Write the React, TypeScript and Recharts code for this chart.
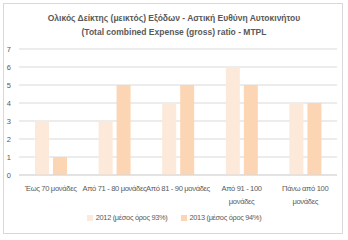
import { Bar, BarChart, CartesianGrid, XAxis, YAxis } from "recharts";

const categories = [
  "Έως 70 μονάδες",
  "Από 71 - 80 μονάδες",
  "Από 81 - 90 μονάδες",
  "Από 91 - 100\nμονάδες",
  "Πάνω από 100\nμονάδες",
];
const values2012 = [3, 3, 4, 6, 4];
const values2013 = [1, 5, 5, 5, 4];
const yTicks = [0, 1, 2, 3, 4, 5, 6, 7];
const series = [
  { key: "y2012", name: "2012 (μέσος όρος 93%)", color: "#fde9d9" },
  { key: "y2013", name: "2013 (μέσος όρος 94%)", color: "#fcd5b4" },
];

const data = categories.map((label, i) => ({
  label,
  y2012: values2012[i],
  y2013: values2013[i],
}));

const gray = "#595959";
const sans = '"Liberation Sans", Arial, sans-serif';

const CategoryTick = ({ x, y, payload }: any) => {
  const lines = String(payload.value).split("\n");
  return (
    <text
      x={x}
      y={y + 8}
      textAnchor="middle"
      fontSize={7.6}
      letterSpacing={-0.35}
      fill={gray}
      fontFamily={sans}
    >
      {lines.map((line, i) => (
        <tspan key={i} x={x} dy={i === 0 ? 0 : 13}>
          {line}
        </tspan>
      ))}
    </text>
  );
};

const App = () => {
  return (
    <div
      style={{
        position: "absolute",
        left: 0,
        top: 0,
        width: 348,
        height: 240,
        background: "#fff",
      }}
    >
      <div
        style={{
          position: "absolute",
          left: 3,
          top: 3,
          width: 340,
          height: 231,
          border: "1px solid #d9d9d9",
          boxSizing: "border-box",
        }}
      />
      <div
        style={{
          position: "absolute",
          left: 0,
          top: 11,
          width: 348,
          textAlign: "center",
          fontFamily: sans,
          fontWeight: "bold",
          fontSize: 8.5,
          lineHeight: "14px",
          color: gray,
        }}
      >
        Ολικός Δείκτης (μεικτός) Εξόδων - Αστική Ευθύνη Αυτοκινήτου
        <br />
        (Total combined Expense (gross) ratio - MTPL
      </div>
      <BarChart
        width={348}
        height={240}
        data={data}
        margin={{ top: 49, right: 11, bottom: 0, left: 0 }}
        barSize={14}
        barGap={4}
        style={{ position: "absolute", left: 0, top: 0 }}
      >
        <CartesianGrid vertical={false} stroke="#d9d9d9" />
        <XAxis
          dataKey="label"
          interval={0}
          height={65}
          tickLine={false}
          axisLine={{ stroke: "#d9d9d9" }}
          tick={<CategoryTick />}
        />
        <YAxis
          width={19}
          domain={[0, 7]}
          ticks={yTicks}
          interval={0}
          tickLine={false}
          axisLine={false}
          tick={{ fontSize: 7.5, fill: gray, fontFamily: sans }}
        />
        {series.map((s) => (
          <Bar
            key={s.key}
            dataKey={s.key}
            name={s.name}
            fill={s.color}
            isAnimationActive={false}
          />
        ))}
      </BarChart>
      <div
        style={{
          position: "absolute",
          left: 0,
          top: 212,
          width: 348,
          display: "flex",
          justifyContent: "center",
          gap: 13,
          fontFamily: sans,
          fontSize: 7.4,
          letterSpacing: -0.3,
          lineHeight: "12px",
          color: gray,
        }}
      >
        {series.map((s) => (
          <span key={s.key} style={{ display: "flex", alignItems: "center" }}>
            <span
              style={{
                display: "inline-block",
                width: 6,
                height: 6,
                background: s.color,
                marginRight: 3,
              }}
            />
            {s.name}
          </span>
        ))}
      </div>
    </div>
  );
};

export default App;
